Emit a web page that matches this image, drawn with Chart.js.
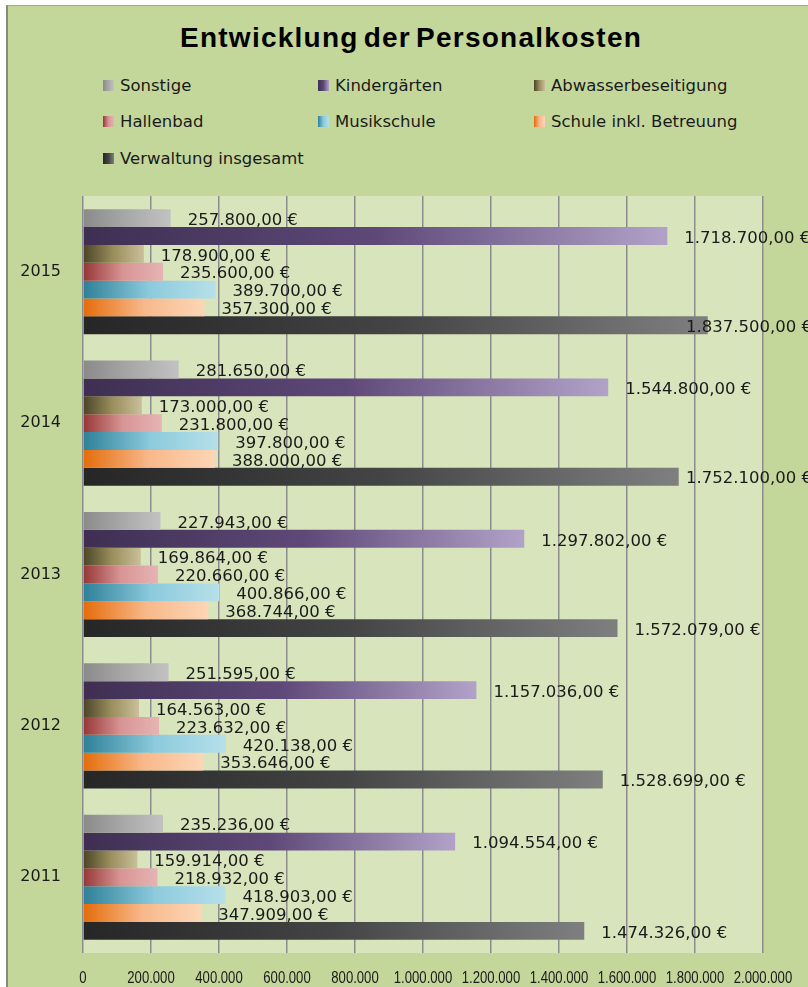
<!DOCTYPE html>
<html>
<head>
<meta charset="utf-8">
<script src="https://cdn.jsdelivr.net/npm/chart.js@4.4.1/dist/chart.umd.min.js"></script>
<style>
  html, body { margin: 0; padding: 0; background: #ffffff; }
  body { width: 808px; height: 987px; position: relative; overflow: hidden; }
  #frame { position: absolute; left: 6px; top: 5px; width: 900px; height: 1100px;
           background: #c4d79b; border-left: 2px solid #858a7c; border-top: 1.5px solid #a3a3a3; }
  #title { position: absolute; left: 180px; top: 23.6px; line-height: 28px; white-space: nowrap;
           font-family: "Liberation Sans", Arial, sans-serif; font-weight: bold; font-size: 28px;
           letter-spacing: 1.25px; word-spacing: -4px; color: #000; }
  .lg { position: absolute; height: 20px; display: flex; align-items: center; white-space: nowrap;
        font-family: "DejaVu Sans", sans-serif; font-size: 16.5px; color: #1a1a1a; }
  .lg .box { width: 11px; height: 11px; margin-right: 6px; flex: none; }
  #wrap { position: absolute; left: 0; top: 0; width: 808px; height: 987px; }
</style>
</head>
<body>
<div id="frame"></div>
<div id="title">Entwicklung der Personalkosten</div>
<div id="legend"></div>
<div id="wrap"><canvas id="c" width="808" height="987"></canvas></div>
<script>
// ---- data ----
const years = ['2015', '2014', '2013', '2012', '2011'];
const seriesNames = ['Sonstige', 'Kindergärten', 'Abwasserbeseitigung', 'Hallenbad', 'Musikschule', 'Schule inkl. Betreuung', 'Verwaltung insgesamt'];
const sonstige      = [257800, 281650, 227943, 251595, 235236];
const kindergaerten = [1718700, 1544800, 1297802, 1157036, 1094554];
const abwasser      = [178900, 173000, 169864, 164563, 159914];
const hallenbad     = [235600, 231800, 220660, 223632, 218932];
const musikschule   = [389700, 397800, 400866, 420138, 418903];
const schule        = [357300, 388000, 368744, 353646, 347909];
const verwaltung    = [1837500, 1752100, 1572079, 1528699, 1474326];
const xTickValues   = [0, 200000, 400000, 600000, 800000, 1000000, 1200000, 1400000, 1600000, 1800000, 2000000];

// ---- styles ----
const gradients = [
  ['#8a8a8a', '#a8a8a8', '#c2c2c2'],
  ['#3e2f52', '#5e4878', '#b2a2c8'],
  ['#4a4426', '#9a8e5c', '#c9bf9a'],
  ['#963636', '#d89494', '#e6b4b4'],
  ['#2e8098', '#8ccadc', '#b6e0ea'],
  ['#e46c0a', '#f8b88a', '#fcd6b6'],
  ['#262626', '#444444', '#7f7f7f']
];
const allSeries = [sonstige, kindergaerten, abwasser, hallenbad, musikschule, schule, verwaltung];

function fmtThousands(s) { return s.replace(/\B(?=(\d{3})+(?!\d))/g, '.'); }
function fmtEuro(v) { const p = v.toFixed(2).split('.'); return fmtThousands(p[0]) + ',' + p[1] + ' €'; }

function barGradient(stops) {
  return function (ctx) {
    const chart = ctx.chart;
    if (!chart.chartArea || ctx.type !== 'data' || !chart.scales.x) return stops[1];
    const xs = chart.scales.x;
    const x0 = xs.getPixelForValue(0);
    const x1 = xs.getPixelForValue(ctx.raw);
    const g = chart.ctx.createLinearGradient(x0, 0, Math.max(x1, x0 + 1), 0);
    g.addColorStop(0, stops[0]);
    g.addColorStop(0.5, stops[1]);
    g.addColorStop(1, stops[2]);
    return g;
  };
}

// ---- HTML legend ----
const legendCols = [103, 318, 534];
const legendRows = [85, 121.7, 158.3];
const legendEl = document.getElementById('legend');
seriesNames.forEach((name, i) => {
  const d = document.createElement('div');
  d.className = 'lg';
  d.style.left = legendCols[i % 3] + 'px';
  d.style.top = (legendRows[Math.floor(i / 3)] - 10) + 'px';
  const b = document.createElement('span');
  b.className = 'box';
  b.style.background = 'linear-gradient(to right,' + gradients[i].join(',') + ')';
  d.appendChild(b);
  d.appendChild(document.createTextNode(name));
  legendEl.appendChild(d);
});

// ---- plugins ----
const plotBg = {
  id: 'plotBg',
  beforeDraw(chart) {
    const a = chart.chartArea, c = chart.ctx;
    c.save(); c.fillStyle = '#d8e4bc';
    c.fillRect(a.left, a.top, a.right - a.left, a.bottom - a.top);
    c.restore();
  }
};
// draw the x axis tick labels horizontally condensed (like the narrow font of the original)
const narrowXLabels = {
  id: 'narrowXLabels',
  afterLayout(chart) {
    const s = chart.scales.x;
    if (!s || s._narrowPatched) return;
    s._narrowPatched = true;
    s.drawLabels = function (chartArea) {
      const c = this.ctx;
      const items = this.getLabelItems(chartArea);
      items.forEach(it => {
        const o = it.options;
        c.save();
        c.translate(o.translation[0], o.translation[1]);
        c.scale(0.82, 1);
        c.font = it.font.string;
        c.fillStyle = o.color;
        c.textAlign = o.textAlign;
        c.textBaseline = o.textBaseline;
        const lines = Array.isArray(it.label) ? it.label : [it.label];
        lines.forEach((ln, k) => c.fillText(ln, 0, it.textOffset + k * it.font.lineHeight));
        c.restore();
      });
    };
  }
};
const valueLabels = {
  id: 'valueLabels',
  afterDatasetsDraw(chart) {
    const c = chart.ctx;
    c.save();
    c.font = '16.5px "DejaVu Sans", sans-serif';
    c.fillStyle = '#1a1a1a';
    c.textAlign = 'left';
    c.textBaseline = 'middle';
    chart.data.datasets.forEach((ds, di) => {
      const meta = chart.getDatasetMeta(di);
      meta.data.forEach((bar, i) => {
        const t = fmtEuro(ds.data[i]);
        const w = c.measureText(t).width;
        const x = Math.min(bar.x + 17, 812 - w);
        c.fillText(t, x, bar.y + 2.5);
      });
    });
    c.restore();
  }
};

new Chart(document.getElementById('c'), {
  type: 'bar',
  data: {
    labels: years,
    datasets: seriesNames.map((n, i) => ({
      label: n,
      data: allSeries[i],
      backgroundColor: barGradient(gradients[i]),
      borderWidth: 0,
      barPercentage: 1.0,
      categoryPercentage: 0.826
    }))
  },
  options: {
    indexAxis: 'y',
    responsive: false,
    animation: false,
    layout: { padding: { left: 0, right: 45, top: 196, bottom: 0 } },
    plugins: { legend: { display: false }, title: { display: false }, tooltip: { enabled: false } },
    scales: {
      x: {
        min: 0, max: 2000000,
        afterBuildTicks(scale) { scale.ticks = xTickValues.map(v => ({ value: v })); },
        afterFit(scale) { scale.height = 34; scale.paddingLeft = 0; scale.paddingRight = 0; },
        grid: { color: '#8c8c8c', lineWidth: 1.5, drawTicks: false },
        border: { display: false },
        ticks: {
          padding: 16,
          color: '#1a1a1a',
          font: { family: '"Liberation Sans", Arial, sans-serif', size: 16 },
          maxRotation: 0, autoSkip: false,
          callback: (v) => fmtThousands(String(v))
        }
      },
      y: {
        afterFit(scale) { scale.width = 83; },
        grid: { display: false, drawTicks: false },
        border: { display: false },
        ticks: { padding: 22, color: '#1a1a1a', font: { family: '"DejaVu Sans", sans-serif', size: 16 } }
      }
    }
  },
  plugins: [plotBg, narrowXLabels, valueLabels]
});
</script>
</body>
</html>
